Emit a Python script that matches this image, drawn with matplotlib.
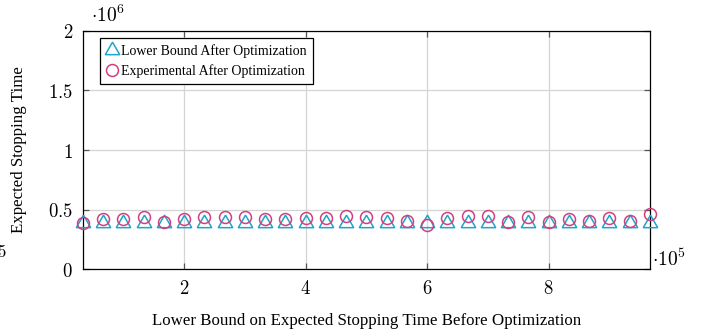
import matplotlib
matplotlib.use("Agg")
import matplotlib.pyplot as plt
from matplotlib.ticker import FixedLocator

# Sample positions (units of 1e5) and measured values (units of 1e6)
x_vals = [k / 3 for k in range(1, 30)]
lower_bound = [0.39] * 29
experimental = [0.389, 0.417, 0.417, 0.434, 0.398, 0.420, 0.440, 0.434, 0.434, 0.420,
                0.417, 0.426, 0.430, 0.448, 0.434, 0.426, 0.406, 0.370, 0.426, 0.448,
                0.448, 0.398, 0.440, 0.398, 0.420, 0.406, 0.426, 0.406, 0.462]

y_ticks = [0, 0.5, 1, 1.5, 2]
y_tick_labels = ["0", "0.5", "1", "1.5", "2"]
x_ticks = [2, 4, 6, 8]
x_tick_labels = ["2", "4", "6", "8"]

cyan = "#1ea5cc"
magenta = "#d1407f"
serif = ["Liberation Serif", "DejaVu Serif"]

plt.rcParams["mathtext.fontset"] = "cm"

fig = plt.figure(figsize=(7.08, 3.33), dpi=100)
ax = fig.add_axes([0.117, 0.192, 0.801, 0.715])

ax.plot(x_vals, lower_bound, linestyle="none", marker=(3, 0, 0), markersize=12,
        markerfacecolor="none", markeredgecolor=cyan, markeredgewidth=1.1,
        label="Lower Bound After Optimization", clip_on=False, zorder=3)
ax.plot(x_vals, experimental, linestyle="none", marker="o", markersize=8.6,
        markerfacecolor="none", markeredgecolor=magenta, markeredgewidth=1.1,
        label="Experimental After Optimization", clip_on=False, zorder=4)

ax.set_xlim(x_vals[0], x_vals[-1])
ax.set_ylim(0, 2)

ax.xaxis.set_major_locator(FixedLocator(x_ticks))
ax.yaxis.set_major_locator(FixedLocator(y_ticks))
ax.set_xticklabels([f"${t}$" for t in x_tick_labels], fontsize=13.5)
ax.set_yticklabels([f"${t}$" for t in y_tick_labels], fontsize=13.5)

ax.grid(True, color="#d4d4d4", linewidth=0.9)
ax.set_axisbelow(True)
ax.tick_params(direction="in", length=4, width=0.9, color="#555555",
               top=True, right=True, pad=7)
for s in ax.spines.values():
    s.set_linewidth(0.9)
    s.set_color("black")

ax.set_xlabel("Lower Bound on Expected Stopping Time Before Optimization",
              fontfamily=serif, fontsize=12.2, labelpad=11)
ax.set_ylabel("Expected Stopping Time", fontfamily=serif, fontsize=12.2, labelpad=15)

# Scale factors
ax.text(0.015, 1.02, r"$\cdot 10^{6}$", transform=ax.transAxes, fontsize=14,
        ha="left", va="bottom")
ax.text(1.004, 0.04, r"$\cdot 10^{5}$", transform=ax.transAxes, fontsize=14,
        ha="left", va="center")
fig.text(0.002, 0.243, r"$5$", fontsize=12, ha="center", va="center")

leg = ax.legend(loc="upper left", bbox_to_anchor=(0.03, 0.97),
                prop={"family": serif, "size": 10}, frameon=True, fancybox=False,
                edgecolor="black", framealpha=1, handlelength=0.8,
                handletextpad=0.3, borderpad=0.45, labelspacing=0.45,
                borderaxespad=0)
leg.get_frame().set_linewidth(0.9)

fig.savefig("out.png", dpi=100)
